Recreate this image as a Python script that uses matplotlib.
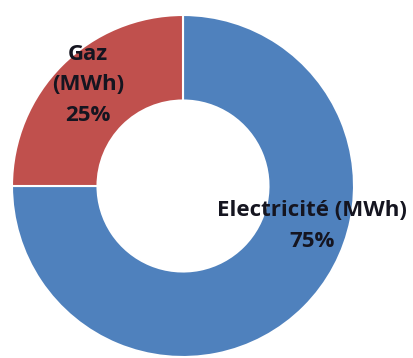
import matplotlib.pyplot as plt

# données du graphique
labels = ["Electricité (MWh)", "Gaz\n(MWh)"]
parts = [75, 25]
colors = ["#4F81BD", "#C0504D"]

W, H = 413, 358

fig = plt.figure(figsize=(W / 100, H / 100), dpi=100)
ax = fig.add_axes([0, 0, 1, 1])

cx, cy = 183, H - 186
r = 171
ax.pie(parts, colors=colors, startangle=90, counterclock=False,
       center=(cx, cy), radius=r,
       wedgeprops=dict(width=r * 0.5, edgecolor="white", linewidth=1.5))

# étiquettes
pos = [(312, H - 226), (88, H - 85)]
for lab, p, (x, y) in zip(labels, parts, pos):
    ax.text(x, y, f"{lab}\n{p}%", ha="center", va="center",
            fontsize=16, fontweight="bold", family="Open Sans",
            color="#151520", linespacing=1.58)

ax.set_xlim(0, W)
ax.set_ylim(0, H)
ax.set_aspect("equal")
ax.axis("off")

fig.savefig("out.png", dpi=100)
